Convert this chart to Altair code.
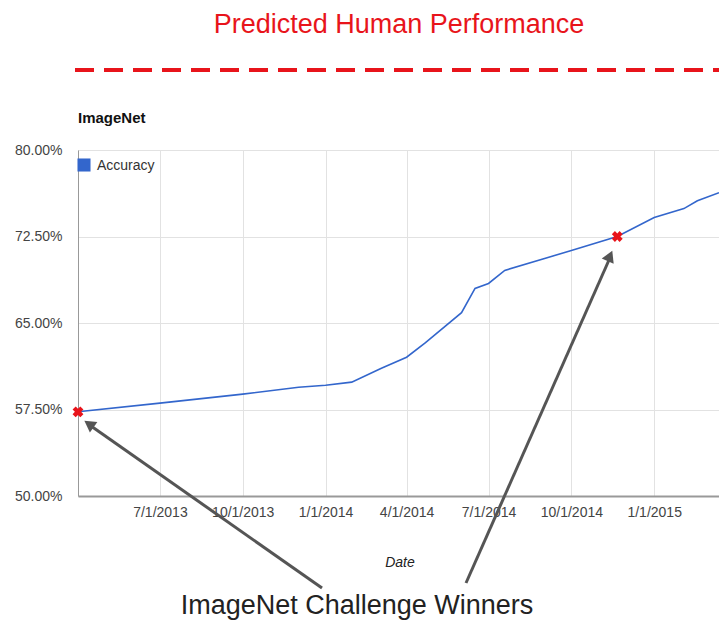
import altair as alt
import pandas as pd

# ---- data ----
dates = ["2013-04-01", "2013-07-01", "2013-10-01", "2013-12-02", "2014-01-01",
         "2014-01-30", "2014-03-04", "2014-04-01", "2014-04-22", "2014-06-01",
         "2014-06-16", "2014-07-01", "2014-07-19", "2014-09-05", "2014-10-01",
         "2014-11-21", "2015-01-01", "2015-02-03", "2015-02-18", "2015-03-14"]
accuracy = [57.3, 58.05, 58.83, 59.43, 59.6,
            59.87, 61.08, 62.03, 63.3, 65.9,
            68.0, 68.43, 69.56, 70.68, 71.29,
            72.5, 74.14, 74.92, 75.6, 76.3]

winner_dates = ["2013-04-01", "2014-11-21"]
winner_acc = [57.3, 72.5]

y_ticks = [50, 57.5, 65, 72.5, 80]
x_ticks = [(2013, 7), (2013, 10), (2014, 1), (2014, 4), (2014, 7), (2014, 10), (2015, 1)]

title_text = "Predicted Human Performance"
chart_label = "ImageNet"
legend_label = "Accuracy"
x_title = "Date"
bottom_text = "ImageNet Challenge Winners"

FONT = "Liberation Sans"
W, H = 641, 346

df = pd.DataFrame({"date": dates, "acc": accuracy})
wdf = pd.DataFrame({"date": winner_dates, "acc": winner_acc})
one = pd.DataFrame({"k": [0]})

xscale = alt.Scale(type="utc",
                   domain=[alt.DateTime(year=2013, month=4, date=1, utc=True),
                           alt.DateTime(year=2015, month=3, date=14, utc=True)])
yscale = alt.Scale(domain=[50, 80], nice=False, zero=False)

xaxis = alt.Axis(values=[alt.DateTime(year=y, month=m, date=1, utc=True) for y, m in x_ticks],
                 labelExpr="utcFormat(datum.value, '%-m/%-d/%Y')",
                 ticks=False, labelPadding=9, labelFontSize=14, labelColor="#444",
                 labelFont=FONT, domainColor="#999", domainWidth=2,
                 gridColor="#e2e2e2", title=None)
yaxis = alt.Axis(values=y_ticks, labelExpr="format(datum.value, '.2f') + '%'",
                 ticks=False, labelPadding=16, labelFontSize=14, labelColor="#444",
                 labelFont=FONT, domainColor="#999", domainWidth=1,
                 gridColor="#e2e2e2", title=None)

line = alt.Chart(df).mark_line(color="#3366cc", strokeWidth=1.6).encode(
    x=alt.X("date:T", scale=xscale, axis=xaxis),
    y=alt.Y("acc:Q", scale=yscale, axis=yaxis),
)

marks = alt.Chart(wdf).mark_point(shape="cross", angle=45, filled=True,
                                  color="#e8141b", size=120, opacity=1).encode(
    x="date:T", y="acc:Q")

def txt(text, x, y, size, color="#222", weight="normal", align="center",
        baseline="middle", style="normal"):
    return alt.Chart(one).mark_text(text=text, font=FONT, fontSize=size, color=color,
                                    fontWeight=weight, align=align, fontStyle=style,
                                    baseline=baseline).encode(
        x=alt.value(x), y=alt.value(y))

title = txt(title_text, 321, -117, 27, color="#e8141b", baseline="alphabetic")
label = txt(chart_label, 0, -32, 15, color="#111", weight="bold", align="left")
xtitle = txt(x_title, 322, 413, 14, color="#222", style="italic")
bottom = txt(bottom_text, 279, 464, 27, color="#222", baseline="alphabetic")
legtxt = txt(legend_label, 19, 16, 14, color="#333", align="left")

legsq = alt.Chart(one).mark_square(color="#3366cc", size=170, opacity=1).encode(
    x=alt.value(6), y=alt.value(15))

dash = alt.Chart(one).mark_rule(color="#e8141b", strokeWidth=4,
                                strokeDash=[19, 10]).encode(
    x=alt.value(-3), x2=alt.value(652), y=alt.value(-80), y2=alt.value(-80))

arrow_color = "#555"
shaft1 = alt.Chart(one).mark_rule(color=arrow_color, strokeWidth=3).encode(
    x=alt.value(244), y=alt.value(438), x2=alt.value(13), y2=alt.value(276))
shaft2 = alt.Chart(one).mark_rule(color=arrow_color, strokeWidth=3).encode(
    x=alt.value(388), y=alt.value(433), x2=alt.value(531), y2=alt.value(110))
head1 = alt.Chart(one).mark_point(shape="triangle-up", filled=True, color=arrow_color,
                                  size=170, angle=305, opacity=1).encode(
    x=alt.value(11), y=alt.value(274))
head2 = alt.Chart(one).mark_point(shape="triangle-up", filled=True, color=arrow_color,
                                  size=170, angle=24, opacity=1).encode(
    x=alt.value(532), y=alt.value(106))

chart = alt.layer(
    line, shaft1, shaft2, head1, head2, marks, legsq, legtxt,
    title, label, xtitle, bottom, dash
).properties(
    width=W, height=H,
    autosize=alt.AutoSizeParams(type="none"),
    padding={"left": 70, "top": 142, "right": 0, "bottom": 125},
).configure_view(stroke=None).configure(background="white")

chart.save("out.html", embed_options={"renderer": "svg", "actions": False})
